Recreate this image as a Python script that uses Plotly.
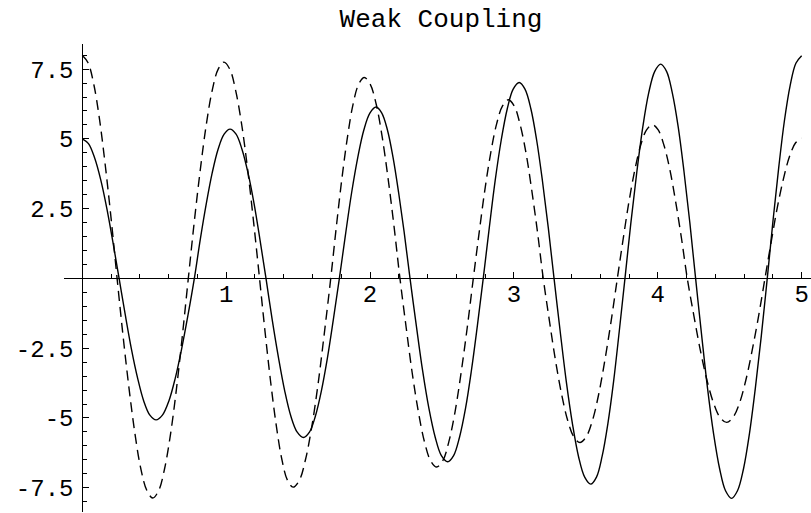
import plotly.graph_objects as go

# Displacement of the first oscillator (solid curve), one row per quarter swing
t_solid = [0.000,
           0.043, 0.085, 0.128, 0.171, 0.213, 0.256,
           0.299, 0.342, 0.385, 0.427, 0.470, 0.513,
           0.557, 0.602, 0.646, 0.690, 0.735, 0.779,
           0.820, 0.862, 0.903, 0.944, 0.986, 1.027,
           1.069, 1.110, 1.152, 1.194, 1.235, 1.277,
           1.320, 1.364, 1.407, 1.450, 1.494, 1.537,
           1.579, 1.620, 1.662, 1.704, 1.745, 1.787,
           1.830, 1.872, 1.915, 1.957, 2.000, 2.042,
           2.081, 2.121, 2.160, 2.199, 2.239, 2.278,
           2.322, 2.365, 2.409, 2.453, 2.496, 2.540,
           2.581, 2.622, 2.664, 2.705, 2.746, 2.787,
           2.829, 2.870, 2.912, 2.954, 2.995, 3.037,
           3.077, 3.118, 3.158, 3.198, 3.239, 3.279,
           3.322, 3.364, 3.407, 3.449, 3.492, 3.534,
           3.574, 3.613, 3.653, 3.693, 3.732, 3.772,
           3.813, 3.855, 3.896, 3.937, 3.979, 4.020,
           4.061, 4.101, 4.142, 4.182, 4.223, 4.263,
           4.305, 4.346, 4.388, 4.430, 4.471, 4.513,
           4.554, 4.596, 4.637, 4.678, 4.720, 4.761,
           4.801, 4.841, 4.880, 4.920, 4.960, 5.000]
y_solid = [5.00,
           4.83, 4.33, 3.54, 2.50, 1.30, 0.00,
           -1.31, -2.54, -3.58, -4.39, -4.90, -5.07,
           -4.90, -4.39, -3.58, -2.54, -1.31, 0.00,
           1.39, 2.68, 3.78, 4.63, 5.17, 5.35,
           5.17, 4.63, 3.78, 2.68, 1.39, 0.00,
           -1.48, -2.85, -4.03, -4.94, -5.51, -5.70,
           -5.51, -4.94, -4.03, -2.85, -1.48, 0.00,
           1.59, 3.07, 4.34, 5.32, 5.93, 6.14,
           5.93, 5.32, 4.34, 3.07, 1.59, 0.00,
           -1.70, -3.29, -4.65, -5.69, -6.35, -6.57,
           -6.35, -5.69, -4.65, -3.29, -1.70, 0.00,
           1.82, 3.51, 4.96, 6.08, 6.78, 7.02,
           6.78, 6.08, 4.96, 3.51, 1.82, 0.00,
           -1.91, -3.69, -5.21, -6.38, -7.12, -7.37,
           -7.12, -6.38, -5.21, -3.69, -1.91, 0.00,
           1.99, 3.84, 5.43, 6.65, 7.42, 7.68,
           7.42, 6.65, 5.43, 3.84, 1.99, 0.00,
           -2.04, -3.94, -5.57, -6.82, -7.61, -7.88,
           -7.61, -6.82, -5.57, -3.94, -2.04, 0.00,
           2.07, 3.99, 5.64, 6.91, 7.71, 7.98]

# Displacement of the second oscillator (dashed curve)
t_dashed = [0.000,
            0.040, 0.081, 0.121, 0.161, 0.202, 0.242,
            0.283, 0.325, 0.366, 0.407, 0.449, 0.490,
            0.531, 0.572, 0.614, 0.655, 0.696, 0.737,
            0.778, 0.820, 0.861, 0.902, 0.944, 0.985,
            1.026, 1.067, 1.109, 1.150, 1.191, 1.232,
            1.271, 1.310, 1.349, 1.387, 1.426, 1.465,
            1.509, 1.552, 1.596, 1.640, 1.683, 1.727,
            1.766, 1.805, 1.844, 1.882, 1.921, 1.960,
            2.001, 2.043, 2.084, 2.125, 2.167, 2.208,
            2.251, 2.293, 2.336, 2.378, 2.421, 2.463,
            2.506, 2.548, 2.591, 2.633, 2.676, 2.718,
            2.759, 2.799, 2.840, 2.880, 2.921, 2.961,
            3.002, 3.042, 3.083, 3.123, 3.164, 3.204,
            3.247, 3.289, 3.332, 3.374, 3.417, 3.459,
            3.502, 3.546, 3.589, 3.632, 3.676, 3.719,
            3.760, 3.800, 3.841, 3.881, 3.922, 3.962,
            4.003, 4.043, 4.084, 4.124, 4.165, 4.205,
            4.251, 4.296, 4.342, 4.388, 4.433, 4.479,
            4.523, 4.568, 4.612, 4.656, 4.701, 4.745,
            4.788, 4.830, 4.873, 4.915, 4.958, 5.000]
y_dashed = [8.00,
            7.73, 6.93, 5.66, 4.00, 2.07, 0.00,
            -2.04, -3.94, -5.56, -6.82, -7.60, -7.87,
            -7.60, -6.82, -5.56, -3.94, -2.04, 0.00,
            2.01, 3.88, 5.48, 6.71, 7.49, 7.75,
            7.49, 6.71, 5.48, 3.88, 2.01, 0.00,
            -1.94, -3.74, -5.29, -6.48, -7.23, -7.48,
            -7.23, -6.48, -5.29, -3.74, -1.94, 0.00,
            1.86, 3.60, 5.09, 6.24, 6.96, 7.20,
            6.96, 6.24, 5.09, 3.60, 1.86, 0.00,
            -1.75, -3.38, -4.78, -5.85, -6.53, -6.76,
            -6.53, -5.85, -4.78, -3.38, -1.75, 0.00,
            1.66, 3.20, 4.53, 5.54, 6.18, 6.40,
            6.18, 5.54, 4.53, 3.20, 1.66, 0.00,
            -1.52, -2.94, -4.16, -5.09, -5.68, -5.88,
            -5.68, -5.09, -4.16, -2.94, -1.52, 0.00,
            1.43, 2.76, 3.90, 4.77, 5.32, 5.51,
            5.32, 4.77, 3.90, 2.76, 1.43, 0.00,
            -1.34, -2.58, -3.65, -4.47, -4.98, -5.16,
            -4.98, -4.47, -3.65, -2.58, -1.34, 0.00,
            1.30, 2.52, 3.56, 4.36, 4.86, 5.03]

x_tick_vals = [1, 2, 3, 4, 5]
x_tick_text = ["1", "2", "3", "4", "5"]
y_tick_vals = [-7.5, -5, -2.5, 2.5, 5, 7.5]
y_tick_text = ["-7.5", "-5", "-2.5", "2.5", "5", "7.5"]

title_text = "Weak Coupling"

x_range = [-0.127, 5.065]
y_range = [-8.37, 8.40]

mono = "Liberation Mono, DejaVu Sans Mono, monospace"

fig = go.Figure()
fig.add_trace(go.Scatter(
    x=t_dashed, y=y_dashed, mode="lines",
    line=dict(color="black", width=1.4, dash="10px,6px", shape="spline", smoothing=1.0),
    showlegend=False, hoverinfo="skip",
))
fig.add_trace(go.Scatter(
    x=t_solid, y=y_solid, mode="lines",
    line=dict(color="black", width=1.4, shape="spline", smoothing=1.0),
    showlegend=False, hoverinfo="skip",
))

# Axes cross at the origin: place each free axis where the other is zero
x_axis_pos = (0 - y_range[0]) / (y_range[1] - y_range[0])
y_axis_pos = (0 - x_range[0]) / (x_range[1] - x_range[0])

fig.update_layout(
    width=811, height=513,
    margin=dict(l=64, r=0, t=44, b=1),
    paper_bgcolor="white", plot_bgcolor="white",
    title=dict(text=title_text, x=441 / 811, xref="container", xanchor="center",
               y=1 - 18 / 513, yref="container", yanchor="middle",
               font=dict(family=mono, size=26, color="black")),
    xaxis=dict(range=x_range, anchor="free", position=x_axis_pos,
               showgrid=False, zeroline=False, showline=True,
               linecolor="black", linewidth=1,
               tickmode="array", tickvals=x_tick_vals, ticktext=x_tick_text,
               ticks="inside", ticklen=6, tickwidth=1, tickcolor="black",
               ticklabelstandoff=-6,
               minor=dict(tickmode="linear", tick0=0, dtick=0.2, ticks="inside",
                          ticklen=4, tickwidth=1, tickcolor="black"),
               tickfont=dict(family=mono, size=24, color="black")),
    yaxis=dict(range=y_range, anchor="free", position=y_axis_pos,
               showgrid=False, zeroline=False, showline=True,
               linecolor="black", linewidth=1,
               tickmode="array", tickvals=y_tick_vals, ticktext=y_tick_text,
               ticks="inside", ticklen=6, tickwidth=1, tickcolor="black",
               ticklabelstandoff=4,
               minor=dict(tickmode="linear", tick0=0, dtick=0.5, ticks="inside",
                          ticklen=4, tickwidth=1, tickcolor="black"),
               tickfont=dict(family=mono, size=24, color="black")),
)

fig.write_html("out.html")
